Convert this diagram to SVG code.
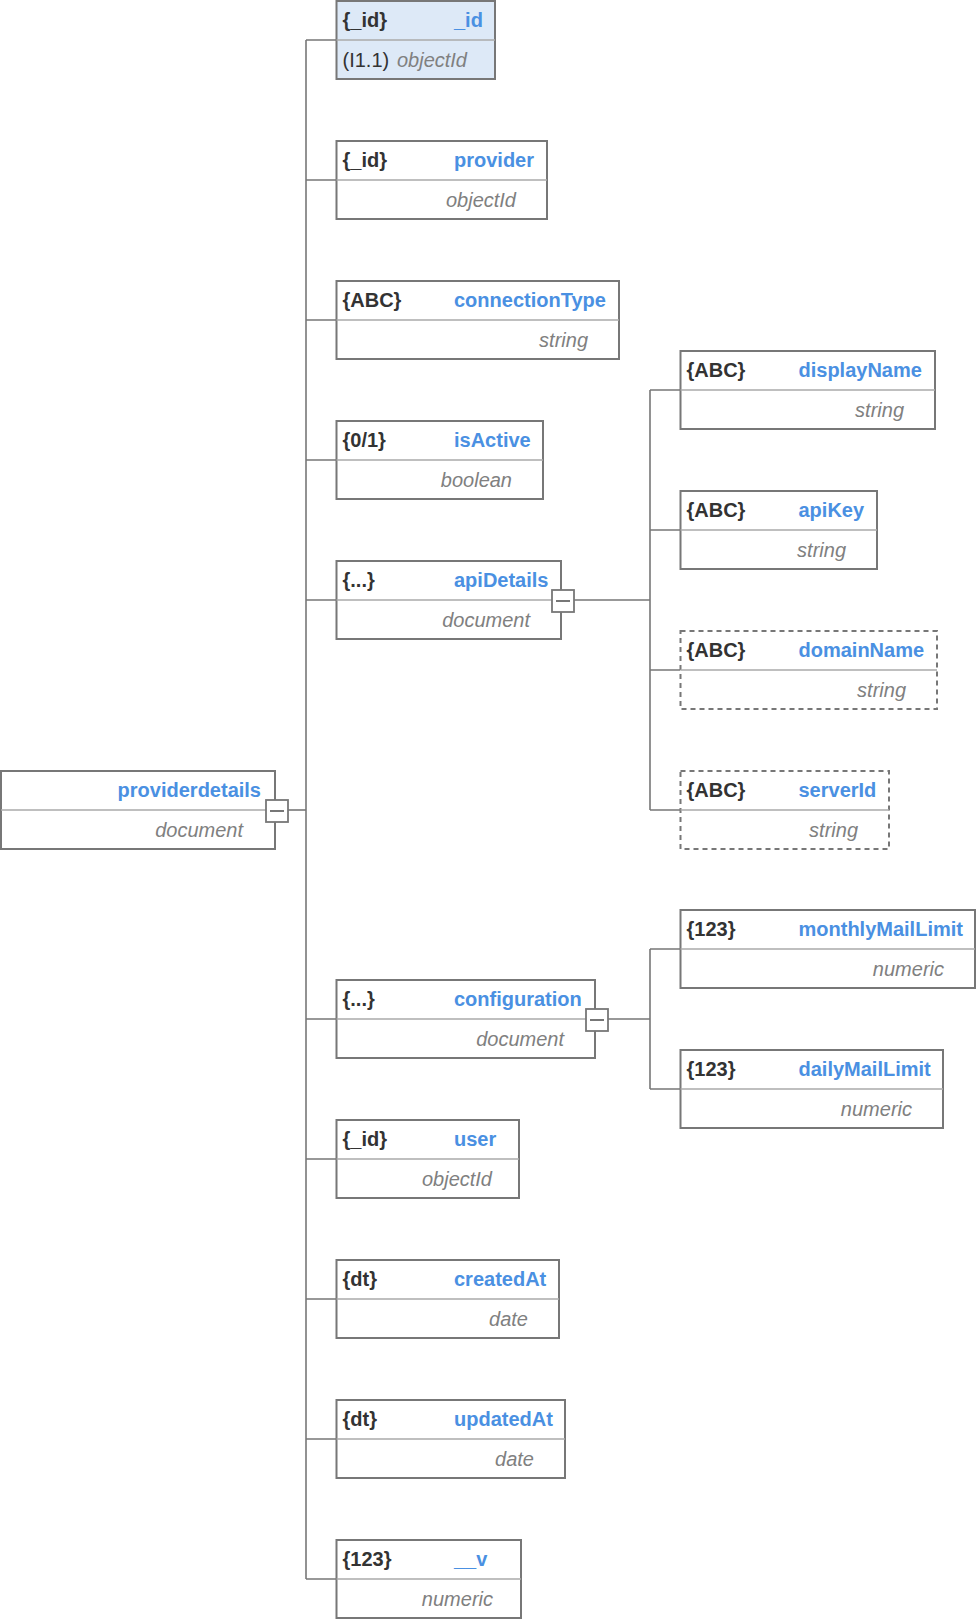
<svg xmlns="http://www.w3.org/2000/svg" width="976" height="1620" viewBox="0 0 976 1620">
<style>
.box{fill:#fff;stroke:#777;stroke-width:2}
.dash{stroke-dasharray:5 4}
.key{fill:#dde9f7}
.div{stroke:#aaa;stroke-width:1.5}
.ln{stroke:#777;stroke-width:1.6;fill:none}
.ic{font-family:"Liberation Sans",Arial,sans-serif;font-size:20px;font-weight:bold;fill:#333}
.nm{font-family:"Liberation Sans",Arial,sans-serif;font-size:20px;font-weight:bold;fill:#4a90e2}
.nme{text-anchor:end}
.ty{font-family:"Liberation Sans",Arial,sans-serif;font-size:20px;font-style:italic;fill:#808080;text-anchor:end}
.rg{font-family:"Liberation Sans",Arial,sans-serif;font-size:20px;fill:#333}
.btn{fill:#fff;stroke:#777;stroke-width:1.8}
.minus{stroke:#777;stroke-width:2}
</style>
<g id="connectors">
<path class="ln" d="M306 40V1579"/>
<path class="ln" d="M288 810H306"/>
<path class="ln" d="M306 40H336.5M306 180H336.5M306 320H336.5M306 460H336.5M306 600H336.5M306 1019H336.5M306 1159H336.5M306 1299H336.5M306 1439H336.5M306 1579H336.5"/>
<path class="ln" d="M574 600H650M650 390V810M650 390H680.5M650 530H680.5M650 670H680.5M650 810H680.5"/>
<path class="ln" d="M608 1019H650M650 949V1089M650 949H680.5M650 1089H680.5"/>
</g>
<g id="providerdetails">
<rect class="box" x="1" y="771" width="274" height="78"/>
<line class="div" x1="1" y1="810" x2="275" y2="810"/>
<text class="nm nme" x="261" y="797">providerdetails</text>
<text class="ty" x="243" y="836.5">document</text>
<rect class="btn" x="266" y="800" width="22" height="22"/>
<line class="minus" x1="270" y1="811" x2="284" y2="811"/>
</g>
<g id="node-_id">
<rect class="box key" x="336.5" y="1" width="158.5" height="78"/>
<line class="div" x1="336.5" y1="40" x2="495" y2="40"/>
<text class="ic" x="342.5" y="27">{_id}</text>
<text class="nm" x="454" y="27">_id</text>
<text class="rg" x="342.5" y="66.5">(I1.1)</text>
<text class="ty" x="467" y="66.5">objectId</text>
</g>
<g id="node-provider">
<rect class="box" x="336.5" y="141" width="210.5" height="78"/>
<line class="div" x1="336.5" y1="180" x2="547" y2="180"/>
<text class="ic" x="342.5" y="167">{_id}</text>
<text class="nm" x="454" y="167">provider</text>
<text class="ty" x="516" y="206.5">objectId</text>
</g>
<g id="node-connectionType">
<rect class="box" x="336.5" y="281" width="282.5" height="78"/>
<line class="div" x1="336.5" y1="320" x2="619" y2="320"/>
<text class="ic" x="342.5" y="307">{ABC}</text>
<text class="nm" x="454" y="307">connectionType</text>
<text class="ty" x="588" y="346.5">string</text>
</g>
<g id="node-isActive">
<rect class="box" x="336.5" y="421" width="206.5" height="78"/>
<line class="div" x1="336.5" y1="460" x2="543" y2="460"/>
<text class="ic" x="342.5" y="447">{0/1}</text>
<text class="nm" x="454" y="447">isActive</text>
<text class="ty" x="512" y="486.5">boolean</text>
</g>
<g id="node-apiDetails">
<rect class="box" x="336.5" y="561" width="224.5" height="78"/>
<line class="div" x1="336.5" y1="600" x2="561" y2="600"/>
<text class="ic" x="342.5" y="587">{...}</text>
<text class="nm" x="454" y="587">apiDetails</text>
<text class="ty" x="530" y="626.5">document</text>
<rect class="btn" x="552" y="590" width="22" height="22"/>
<line class="minus" x1="556" y1="601" x2="570" y2="601"/>
</g>
<g id="node-displayName">
<rect class="box" x="680.5" y="351" width="254.5" height="78"/>
<line class="div" x1="680.5" y1="390" x2="935" y2="390"/>
<text class="ic" x="686.5" y="377">{ABC}</text>
<text class="nm" x="798.5" y="377">displayName</text>
<text class="ty" x="904" y="416.5">string</text>
</g>
<g id="node-apiKey">
<rect class="box" x="680.5" y="491" width="196.5" height="78"/>
<line class="div" x1="680.5" y1="530" x2="877" y2="530"/>
<text class="ic" x="686.5" y="517">{ABC}</text>
<text class="nm" x="798.5" y="517">apiKey</text>
<text class="ty" x="846" y="556.5">string</text>
</g>
<g id="node-domainName">
<rect class="box dash" x="680.5" y="631" width="256.5" height="78"/>
<line class="div" x1="680.5" y1="670" x2="937" y2="670"/>
<text class="ic" x="686.5" y="657">{ABC}</text>
<text class="nm" x="798.5" y="657">domainName</text>
<text class="ty" x="906" y="696.5">string</text>
</g>
<g id="node-serverId">
<rect class="box dash" x="680.5" y="771" width="208.5" height="78"/>
<line class="div" x1="680.5" y1="810" x2="889" y2="810"/>
<text class="ic" x="686.5" y="797">{ABC}</text>
<text class="nm" x="798.5" y="797">serverId</text>
<text class="ty" x="858" y="836.5">string</text>
</g>
<g id="node-configuration">
<rect class="box" x="336.5" y="980" width="258.5" height="78"/>
<line class="div" x1="336.5" y1="1019" x2="595" y2="1019"/>
<text class="ic" x="342.5" y="1006">{...}</text>
<text class="nm" x="454" y="1006">configuration</text>
<text class="ty" x="564" y="1045.5">document</text>
<rect class="btn" x="586" y="1009" width="22" height="22"/>
<line class="minus" x1="590" y1="1020" x2="604" y2="1020"/>
</g>
<g id="node-monthlyMailLimit">
<rect class="box" x="680.5" y="910" width="294.5" height="78"/>
<line class="div" x1="680.5" y1="949" x2="975" y2="949"/>
<text class="ic" x="686.5" y="936">{123}</text>
<text class="nm" x="798.5" y="936">monthlyMailLimit</text>
<text class="ty" x="944" y="975.5">numeric</text>
</g>
<g id="node-dailyMailLimit">
<rect class="box" x="680.5" y="1050" width="262.5" height="78"/>
<line class="div" x1="680.5" y1="1089" x2="943" y2="1089"/>
<text class="ic" x="686.5" y="1076">{123}</text>
<text class="nm" x="798.5" y="1076">dailyMailLimit</text>
<text class="ty" x="912" y="1115.5">numeric</text>
</g>
<g id="node-user">
<rect class="box" x="336.5" y="1120" width="182.5" height="78"/>
<line class="div" x1="336.5" y1="1159" x2="519" y2="1159"/>
<text class="ic" x="342.5" y="1146">{_id}</text>
<text class="nm" x="454" y="1146">user</text>
<text class="ty" x="492" y="1185.5">objectId</text>
</g>
<g id="node-createdAt">
<rect class="box" x="336.5" y="1260" width="222.5" height="78"/>
<line class="div" x1="336.5" y1="1299" x2="559" y2="1299"/>
<text class="ic" x="342.5" y="1286">{dt}</text>
<text class="nm" x="454" y="1286">createdAt</text>
<text class="ty" x="528" y="1325.5">date</text>
</g>
<g id="node-updatedAt">
<rect class="box" x="336.5" y="1400" width="228.5" height="78"/>
<line class="div" x1="336.5" y1="1439" x2="565" y2="1439"/>
<text class="ic" x="342.5" y="1426">{dt}</text>
<text class="nm" x="454" y="1426">updatedAt</text>
<text class="ty" x="534" y="1465.5">date</text>
</g>
<g id="node-__v">
<rect class="box" x="336.5" y="1540" width="184.5" height="78"/>
<line class="div" x1="336.5" y1="1579" x2="521" y2="1579"/>
<text class="ic" x="342.5" y="1566">{123}</text>
<text class="nm" x="454" y="1566">__v</text>
<text class="ty" x="493" y="1605.5">numeric</text>
</g>
</svg>
